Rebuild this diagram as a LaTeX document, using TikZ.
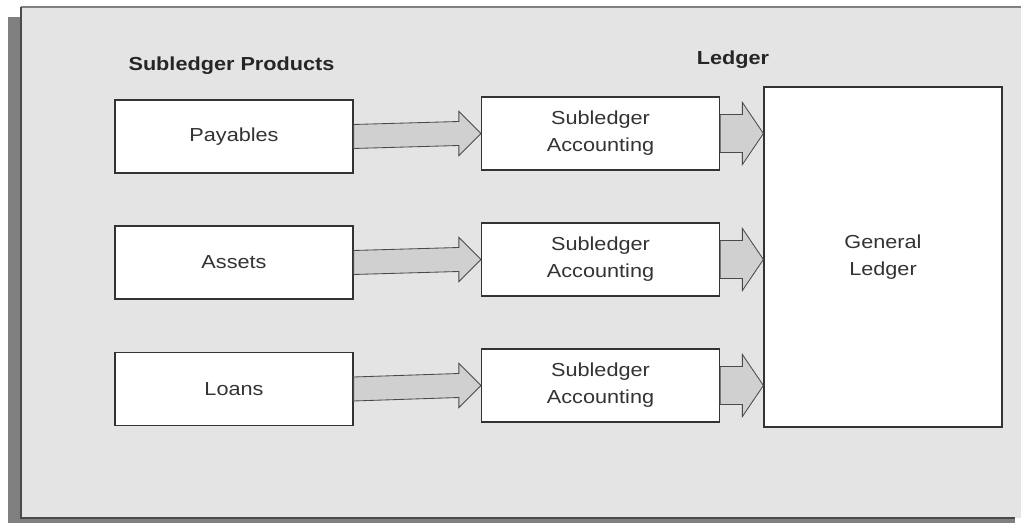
\documentclass[tikz,border=0pt]{standalone}
\usepackage{fontspec}
\setmainfont[FakeStretch=1.15]{Liberation Sans}
\usetikzlibrary{calc}
\definecolor{panelgray}{HTML}{E4E4E4}
\definecolor{shadowgray}{HTML}{808080}
\definecolor{edgegray}{HTML}{4A4A4A}
\definecolor{arrowgray}{HTML}{D0D0D0}
\definecolor{inkgray}{HTML}{333333}

% fat arrow: from, to, shaft half width, head half width, head length
\newcommand{\fatarrow}[5]{%
  \draw[arrowbody] ($(#1)+(0,-#3)$) -- ($(#2)+(-#5,-#3)$) -- ($(#2)+(-#5,-#4)$)
    -- (#2) -- ($(#2)+(-#5,#4)$) -- ($(#2)+(-#5,#3)$) -- ($(#1)+(0,#3)$) -- cycle;}

\begin{document}
\begin{tikzpicture}[x=0.025cm,y=-0.025cm,
    prodbox/.style={draw=inkgray,line width=0.8pt,fill=white,text=inkgray,
      minimum width=5.95cm,minimum height=1.825cm,align=center,
      font=\fontsize{13.4}{19.2}\selectfont},
    title/.style={anchor=base,text=black!85,font=\fontsize{13.4}{16}\selectfont\bfseries},
    arrowbody/.style={draw=edgegray,line width=0.6pt,fill=arrowgray,line join=miter}]
  \useasboundingbox (0,0) rectangle (1021,523);
  \fill[white] (0,0) rectangle (1021,523);
  % shadow and panel
  \fill[shadowgray] (8,17) rectangle (1015,523);
  \fill[panelgray] (21,7) rectangle (1021,518);
  \draw[shadowgray,line width=1.4pt] (21,7) -- (1021,7);
  \draw[edgegray,line width=1pt] (21,7) -- (21,518) -- (1015,518);

  \node[title] (prodtitle) at (231.5,71) {Subledger Products};
  \node[title] (ledgertitle) at (733,65) {Ledger};

  \node[prodbox] (payables) at (234,136.5) {Payables};
  \node[prodbox] (assets) at (234,262.5) {Assets};
  \node[prodbox] (loans) at (234,389) {Loans};

  \node[prodbox] (sla1) at (600.5,133.5) {Subledger\\Accounting};
  \node[prodbox] (sla2) at (600.5,259.5) {Subledger\\Accounting};
  \node[prodbox] (sla3) at (600.5,385.5) {Subledger\\Accounting};

  \node[prodbox,minimum height=8.5cm] (gl) at (883,257) {General\\Ledger};

  \fatarrow{payables.east}{sla1.west}{12}{22}{22}
  \fatarrow{assets.east}{sla2.west}{12}{22}{22}
  \fatarrow{loans.east}{sla3.west}{12}{22}{22}

  \fatarrow{sla1.east}{sla1.east -| gl.west}{19}{31}{21}
  \fatarrow{sla2.east}{sla2.east -| gl.west}{19}{31}{21}
  \fatarrow{sla3.east}{sla3.east -| gl.west}{19}{31}{21}
\end{tikzpicture}
\end{document}
